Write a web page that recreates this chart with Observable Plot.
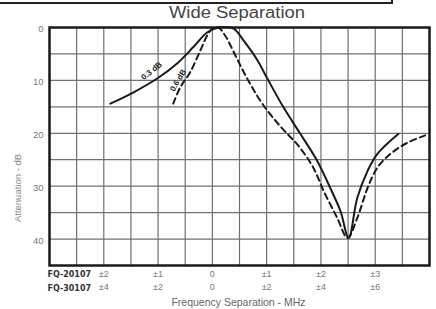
<!DOCTYPE html>
<html>
<head>
<meta charset="utf-8">
<script src="https://cdn.jsdelivr.net/npm/d3@7"></script>
<script src="https://cdn.jsdelivr.net/npm/@observablehq/plot@0.6"></script>
<style>
  body { margin: 0; background: #fff; }
  #wrap { position: relative; width: 436px; height: 309px; font-family: "Liberation Sans", Arial, sans-serif; overflow: hidden; }
  #topbox { position: absolute; left: 0; top: -2px; width: 391px; height: 4px; border-bottom: 2px solid #222; border-right: 2px solid #222; }
  #title { position: absolute; left: 47px; width: 380px; top: 5px; text-align: center; font-size: 16px; line-height: 16px; color: #444; transform: scaleX(1.15); transform-origin: 190px 0; }
  #ylabel { position: absolute; left: 18px; top: 188px; transform: translate(-50%, -50%) rotate(-90deg); font-size: 9.5px; line-height: 10px; color: #888; white-space: nowrap; }
  #chart { position: absolute; left: 0; top: 0; }
</style>
</head>
<body>
<div id="wrap">
  <div id="chart"></div>
  <div id="topbox"></div>
  <div id="title">Wide Separation</div>
  <div id="ylabel">Attenuation - dB</div>
</div>
<script>
// Frequency separation in FQ-20107 MHz units; attenuation in dB
const solidFreq  = [-1.88, -1.46, -1.01, -0.65, -0.35, -0.09, 0.13, 0.39, 0.57, 0.83, 1.01, 1.31, 1.62, 1.93, 2.17, 2.36, 2.51, 2.67, 2.86, 3.04, 3.43];
const solidAtten = [14.4, 12.3, 9.6, 6.8, 3.7, 0.9, 0.0, 0.2, 2.4, 6.2, 9.6, 15.1, 20.1, 25.2, 30.3, 34.7, 39.8, 32.2, 27.1, 23.9, 20.1];
const dashedFreq  = [-0.72, -0.59, -0.41, -0.22, -0.09, 0.00, 0.11, 0.24, 0.42, 0.66, 0.94, 1.27, 1.58, 1.86, 2.05, 2.30, 2.49, 2.67, 2.86, 3.04, 3.28, 3.59, 3.92];
const dashedAtten = [14.4, 11.3, 8.5, 4.3, 1.4, 0.2, 0.0, 1.6, 5.2, 10.0, 14.7, 18.9, 22.3, 26.5, 30.9, 36.0, 39.8, 36.0, 30.3, 26.5, 23.9, 21.8, 20.4];

const yTicks = [0, 10, 20, 30, 40];
const xTicks = [-2, -1, 0, 1, 2, 3];
const rowNames = ["FQ-20107", "FQ-30107"];
const row1Labels = ["±2", "±1", "0", "±1", "±2", "±3"];
const row2Labels = ["±4", "±2", "0", "±2", "±4", "±6"];
const curveLabels = ["0.3 dB", "0.6 dB"];
const curveLabelFreq = [-1.12, -0.63];
const curveLabelAtten = [8.2, 10.0];
const curveLabelAngle = [-38, -59];

const solid = solidFreq.map((f, i) => ({f, a: solidAtten[i]}));
const dashed = dashedFreq.map((f, i) => ({f, a: dashedAtten[i]}));
const notes = curveLabels.map((t, i) => ({t, f: curveLabelFreq[i], a: curveLabelAtten[i], r: curveLabelAngle[i]}));

const plot = Plot.plot({
  width: 436,
  height: 309,
  marginLeft: 49,
  marginRight: 7,
  marginTop: 27,
  marginBottom: 44,
  style: { fontFamily: "'Liberation Sans', Arial, sans-serif", background: "transparent" },
  x: { domain: [-3, 4], axis: null },
  y: { domain: [0, 45], reverse: true, axis: null },
  marks: [
    Plot.gridX({ interval: 0.5, stroke: "#707070", strokeOpacity: 1, strokeWidth: 1.2 }),
    Plot.gridY({ interval: 5, stroke: "#707070", strokeOpacity: 1, strokeWidth: 1.2 }),
    Plot.line(solid, { x: "f", y: "a", curve: "catmull-rom", stroke: "#1a1a1a", strokeWidth: 2 }),
    Plot.line(dashed, { x: "f", y: "a", curve: "catmull-rom", stroke: "#1a1a1a", strokeWidth: 2, strokeDasharray: "6,4" }),
    Plot.frame({ stroke: "#1a1a1a", strokeWidth: 2.5 }),
    Plot.axisY({ ticks: yTicks, tickSize: 0, tickPadding: 6, fontSize: 9.5, fill: "#777", label: null, dy: 1.5 }),
    Plot.axisX({ ticks: xTicks, tickSize: 0, tickPadding: 5, fontSize: 9, fill: "#777", label: null,
      tickFormat: d => row1Labels[xTicks.indexOf(d)] }),
    Plot.axisX({ ticks: xTicks, tickSize: 0, tickPadding: 18, fontSize: 9, fill: "#777", label: null,
      tickFormat: d => row2Labels[xTicks.indexOf(d)] }),
    Plot.text([rowNames[0]], { frameAnchor: "bottom-left", text: d => d, textAnchor: "start", lineAnchor: "middle", dx: -2, dy: 9, fontSize: 8, fontFamily: "DejaVu Sans", fontWeight: "bold", fill: "#333" }),
    Plot.text([rowNames[1]], { frameAnchor: "bottom-left", text: d => d, textAnchor: "start", lineAnchor: "middle", dx: -2, dy: 22.5, fontSize: 8, fontFamily: "DejaVu Sans", fontWeight: "bold", fill: "#333" }),
    Plot.text(["Frequency Separation - MHz"], { frameAnchor: "bottom", text: d => d, lineAnchor: "middle", textAnchor: "middle", dx: -1, dy: 37, fontSize: 10.5, fill: "#666" }),
    Plot.text(notes, { x: "f", y: "a", text: "t", rotate: "r", fontSize: 8, fontWeight: "bold", fill: "#222" })
  ]
});
document.getElementById("chart").appendChild(plot);
</script>
</body>
</html>
